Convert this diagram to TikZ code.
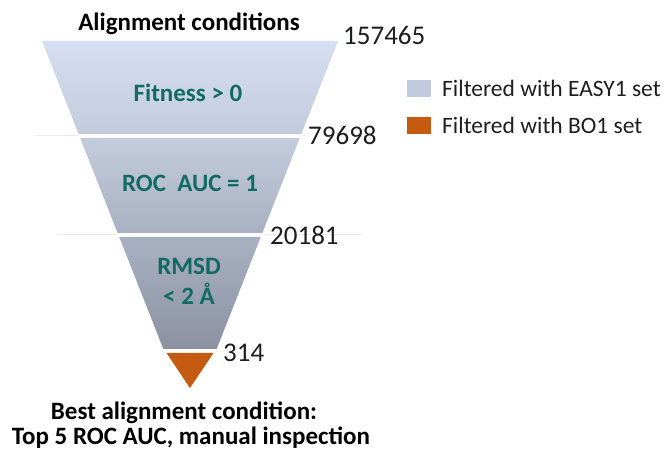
\documentclass[tikz,border=0pt]{standalone}
\usepackage{fontspec}
\setmainfont{Carlito}
\usepackage{tikz}
\definecolor{myteal}{RGB}{17,107,100}
\definecolor{myorange}{RGB}{197,90,17}
\definecolor{mytext}{RGB}{30,30,30}
\definecolor{segA}{RGB}{213,223,241}
\definecolor{segB}{RGB}{195,204,221}
\definecolor{segC}{RGB}{168,176,194}
\definecolor{segD}{RGB}{140,146,162}
\definecolor{mylegend}{RGB}{194,203,222}

\begin{document}
\begin{tikzpicture}[x=1pt, y=-1pt,
    stagetext/.style={anchor=base, inner sep=0pt, text=myteal, font=\bfseries\fontsize{25}{30}\selectfont},
    counttext/.style={anchor=base west, inner sep=0pt, text=mytext, font=\fontsize{27}{30}\selectfont},
    headtext/.style={anchor=base, inner sep=0pt, text=black, font=\bfseries\fontsize{25}{30}\selectfont},
    legendtext/.style={anchor=base west, inner sep=0pt, text=mytext, font=\fontsize{23.5}{28}\selectfont},
    gapline/.style={draw=gray!15, line width=1pt}]
    \useasboundingbox (0,0) rectangle (665,454);
    % schwache Trennlinien
    \draw[gapline] (35,136) -- (305,136);
    \draw[gapline] (58,235) -- (362,235);
    \draw[white, line width=3pt] (78,136) -- (302,136);
    \draw[white, line width=3pt] (116,235) -- (264,235);
    % Trichter zeichnen
    \foreach \ya/\yb/\ctop/\cbot in {41/134/segA/segB, 138/233/segB/segC, 237/349/segC/segD}
        \shade[top color=\ctop, bottom color=\cbot]
            ({42+0.394*(\ya-41)},\ya) -- ({338-0.394*(\ya-41)},\ya)
            -- ({338-0.394*(\yb-41)},\yb) -- ({42+0.394*(\yb-41)},\yb) -- cycle;
    \fill[myorange] (166.5,353) -- (213.5,353) -- (190,388) -- cycle;
    % Beschriftung
    \node[headtext] (head) at (189,31) {Alignment conditions};
    \node[stagetext] (fitness) at (188,101.7) {Fitness > 0};
    \node[stagetext] (rocauc) at (190,191.7) {ROC\ \ AUC = 1};
    \node[stagetext] (rmsd) at (189,275) {RMSD};
    \node[stagetext] (rmsdval) at (189,305) {< 2 Å};
    \node[counttext] (nA) at (343,45) {157465};
    \node[counttext] (nB) at (308,145) {79698};
    \node[counttext] (nC) at (270,245) {20181};
    \node[counttext] (nD) at (223,361.5) {314};
    \node[headtext] (best) at (184,420) {Best alignment condition:};
    \node[headtext] (top) at (191,445) {Top 5 ROC AUC, manual inspection};
    % Legende
    \fill[mylegend] (407,80) rectangle (431,97);
    \fill[myorange] (407,117) rectangle (431,134);
    \node[legendtext] (easy) at (442,97) {Filtered with EASY1 set};
    \node[legendtext] (bo) at (442,134) {Filtered with BO1 set};
\end{tikzpicture}
\end{document}
